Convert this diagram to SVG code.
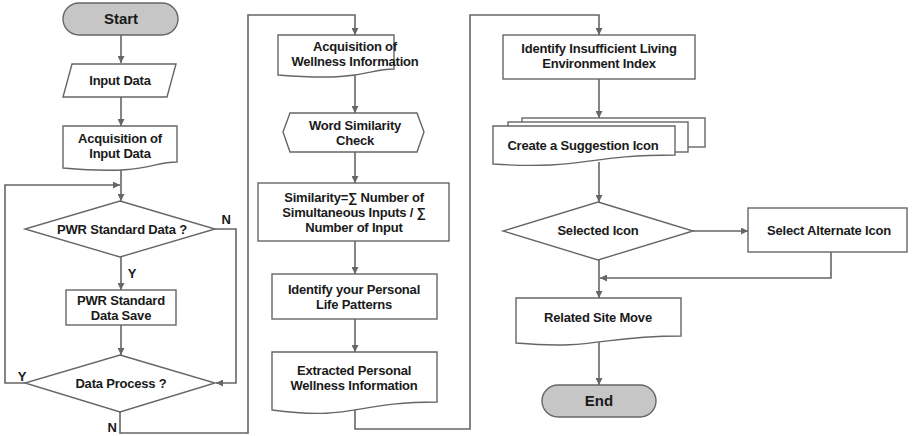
<svg xmlns="http://www.w3.org/2000/svg" width="912" height="436" viewBox="0 0 912 436">
  <defs>
    <marker id="arrow" viewBox="0 0 10 10" refX="10" refY="5" markerWidth="7" markerHeight="7" markerUnits="userSpaceOnUse" orient="auto">
      <path d="M0,0 L10,5 L0,10 Z" fill="#666"/>
    </marker>
    <style>
      .shape { fill: #fff; stroke: #666; stroke-width: 1.4; }
      .term { fill: #c6c6c6; stroke: #666; stroke-width: 1.4; }
      .edge { fill: none; stroke: #666; stroke-width: 1.6; marker-end: url(#arrow); }
      text { font-family: "Liberation Sans", Arial, sans-serif; font-weight: bold; font-size: 13px; letter-spacing: -0.2px; fill: #1a1a1a; text-anchor: middle; }
      .big { font-size: 15px; letter-spacing: 0; }
    </style>
  </defs>

  <!-- connectors -->
  <g id="connectors">
    <line class="edge" x1="121" y1="35" x2="121" y2="63"/>
    <line class="edge" x1="121" y1="97" x2="121" y2="126"/>
    <line class="edge" x1="121" y1="168" x2="121" y2="201"/>
    <polyline class="edge" points="25,383 5,383 5,185 120,185"/>
    <line class="edge" x1="121" y1="257" x2="121" y2="290"/>
    <polyline class="edge" points="215,229 236,229 236,383 216,383"/>
    <line class="edge" x1="121" y1="325" x2="121" y2="355"/>
    <polyline class="edge" points="120,412 120,433 248,433 248,15 355,15 355,35"/>
    <line class="edge" x1="355" y1="74" x2="355" y2="113"/>
    <line class="edge" x1="355" y1="152" x2="355" y2="183"/>
    <line class="edge" x1="355" y1="241" x2="355" y2="274"/>
    <line class="edge" x1="355" y1="319" x2="355" y2="352"/>
    <polyline class="edge" points="355,407 355,429 470,429 470,15 599,15 599,35"/>
    <line class="edge" x1="599" y1="79" x2="599" y2="118"/>
    <line class="edge" x1="599" y1="162" x2="599" y2="202"/>
    <line class="edge" x1="693" y1="231" x2="748" y2="231"/>
    <polyline class="edge" points="831,252 831,278 600,278"/>
    <line class="edge" x1="599" y1="260" x2="599" y2="298"/>
    <line class="edge" x1="599" y1="341" x2="599" y2="385"/>
    <text x="226" y="224">N</text>
    <text x="132" y="278">Y</text>
    <text x="22" y="381">Y</text>
    <text x="112" y="432">N</text>
  </g>

  <!-- column 1 -->
  <g id="start">
    <rect class="term" x="63" y="3" width="115" height="32" rx="16"/>
    <text class="big" x="121" y="24">Start</text>
  </g>
  <g id="input-data">
    <polygon class="shape" points="72,64 176,64 167,97 63,97"/>
    <text x="120" y="85">Input Data</text>
  </g>
  <g id="acquire-input">
    <path class="shape" d="M63,126 H177 V162 C149,162 149,175.5 63,168 Z"/>
    <text x="120" y="143">Acquisition of</text>
    <text x="120" y="158">Input Data</text>
  </g>
  <g id="pwr-check">
    <polygon class="shape" points="120,201 215,229 120,257 25,229"/>
    <text x="122" y="234">PWR Standard Data ?</text>
  </g>
  <g id="pwr-save">
    <rect class="shape" x="66" y="290" width="110" height="35"/>
    <text x="121" y="305">PWR Standard</text>
    <text x="121" y="320">Data Save</text>
  </g>
  <g id="data-process">
    <polygon class="shape" points="120,355 215,383 120,412 25,383"/>
    <text x="121" y="388">Data Process ?</text>
  </g>

  <!-- column 2 -->
  <g id="acquire-wellness">
    <path class="shape" d="M278,35 H394 V69 C365,69 365,82 278,75 Z"/>
    <text x="355" y="51">Acquisition of</text>
    <text x="355" y="66">Wellness Information</text>
  </g>
  <g id="word-similarity">
    <polygon class="shape" points="283,132 290,113 417,113 424,132 417,152 290,152"/>
    <text x="355" y="130">Word Similarity</text>
    <text x="355" y="145">Check</text>
  </g>
  <g id="similarity-formula">
    <rect class="shape" x="258" y="183" width="191" height="58"/>
    <text x="354" y="202">Similarity=∑ Number of</text>
    <text x="354" y="217">Simultaneous Inputs / ∑</text>
    <text x="354" y="232">Number of Input</text>
  </g>
  <g id="life-patterns">
    <rect class="shape" x="272" y="274" width="165" height="45"/>
    <text x="354" y="294">Identify your Personal</text>
    <text x="354" y="309">Life Patterns</text>
  </g>
  <g id="extracted-wellness">
    <path class="shape" d="M272,352 H437 V402 C354,402 354,421 272,410 Z"/>
    <text x="354" y="375">Extracted Personal</text>
    <text x="354" y="390">Wellness Information</text>
  </g>

  <!-- column 3 -->
  <g id="living-index">
    <rect class="shape" x="503" y="35" width="192" height="44"/>
    <text x="599" y="53">Identify Insufficient Living</text>
    <text x="599" y="68">Environment Index</text>
  </g>
  <g id="suggestion-icon">
    <rect class="shape" x="522" y="118" width="183" height="29"/>
    <rect class="shape" x="508" y="122" width="180" height="30"/>
    <path class="shape" d="M493,126 H675 V155 C584,155 584,170 493,164 Z"/>
    <text x="583" y="150">Create a Suggestion Icon</text>
  </g>
  <g id="selected-icon">
    <polygon class="shape" points="598,202 693,231 598,260 503,231"/>
    <text x="598" y="235">Selected Icon</text>
  </g>
  <g id="alternate-icon">
    <rect class="shape" x="748" y="208" width="159" height="44"/>
    <text x="829" y="235">Select Alternate Icon</text>
  </g>
  <g id="related-site">
    <path class="shape" d="M516,298 H681 V336 C598,336 598,350 516,343 Z"/>
    <text x="598" y="322">Related Site Move</text>
  </g>
  <g id="end">
    <rect class="term" x="542" y="385" width="114" height="32" rx="16"/>
    <text class="big" x="599" y="406">End</text>
  </g>
</svg>
